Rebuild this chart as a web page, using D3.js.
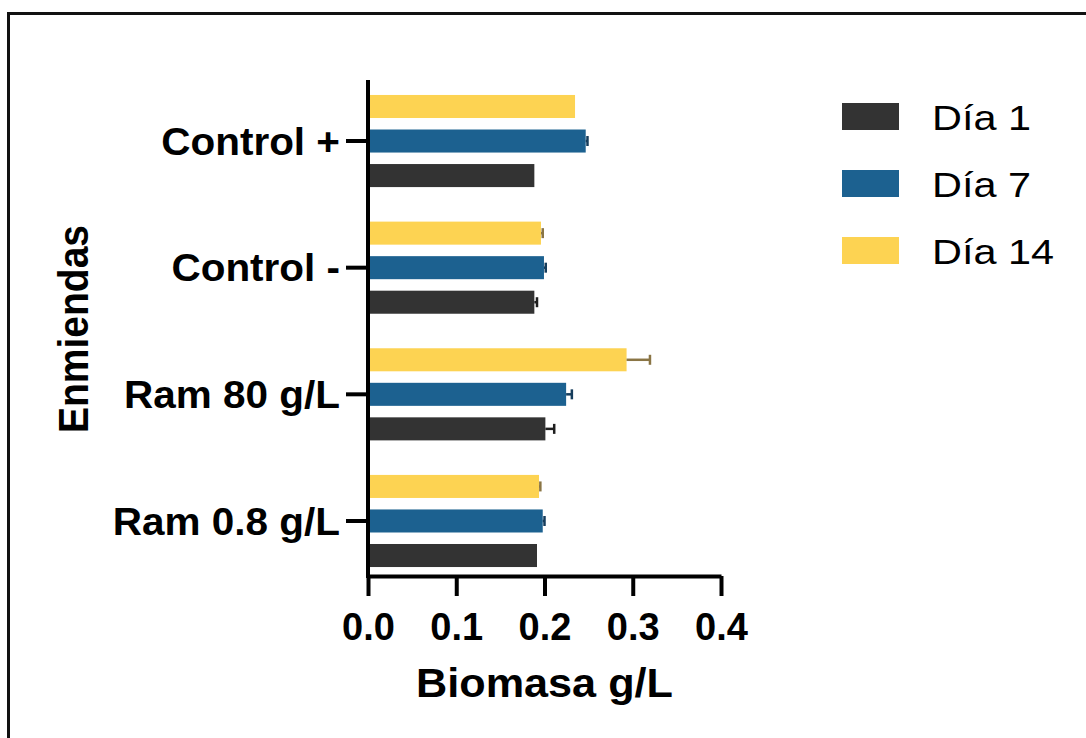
<!DOCTYPE html>
<meta charset="utf-8">
<head>
	<style>
body { margin: 0; background: white; }
svg { display: block; }
.axis path, .axis line { stroke: black; stroke-width: 4px; }
.axis text { font-family: "Liberation Sans", Arial, sans-serif; font-weight: bold; fill: black; }
	</style>
</head>
<body>
    <div id="chart"></div>

<script type="text/javascript" src="https://d3js.org/d3.v7.min.js"></script>
    <script>

// data
const categories = ["Control +", "Control -", "Ram 80 g/L", "Ram 0.8 g/L"];
const series = ["Día 14", "Día 7", "Día 1"];   // top to bottom inside a group
const legendOrder = ["Día 1", "Día 7", "Día 14"];
const dia1 = [0.1885, 0.1885, 0.201, 0.1915];
const dia1Err = [0, 0.003, 0.010, 0];
const dia7 = [0.2467, 0.1994, 0.2245, 0.198];
const dia7Err = [0.002, 0.002, 0.0065, 0.002];
const dia14 = [0.2346, 0.196, 0.293, 0.1938];
const dia14Err = [0, 0.002, 0.0265, 0.0015];
const xTicks = [0, 0.1, 0.2, 0.3, 0.4];

const colors = {"Día 1": "#333333", "Día 7": "#1c6190", "Día 14": "#fdd352"};
const errColors = {"Día 1": "#1e1e1e", "Día 7": "#163d5c", "Día 14": "#8a7545"};

const width = 1086;
const height = 738;

const values = {"Día 1": dia1, "Día 7": dia7, "Día 14": dia14};
const errs = {"Día 1": dia1Err, "Día 7": dia7Err, "Día 14": dia14Err};

const rows = [];
categories.forEach((c, i) => series.forEach(s => rows.push({cat: c, s: s, v: values[s][i], e: errs[s][i]})));

const svg = d3.select('#chart')
  .append('svg')
  .attr('width', width)
  .attr('height', height);

// frame around the figure (runs off the right and bottom edge)
svg.append('rect')
    .attr('x', 8.5).attr('y', 13.5)
    .attr('width', 1200).attr('height', 900)
    .attr('fill', 'none')
    .attr('stroke', '#111')
    .attr('stroke-width', 3);

const x = d3.scaleLinear().domain([0, 0.4]).range([368, 721]);
const axisY = 576;
const axisTop = 80;

const y = d3.scaleBand().domain(categories).range([77.7, 584.3]).paddingInner(0);
const yInner = d3.scaleBand().domain(series).range([0, y.bandwidth()])
    .paddingInner(0.333).paddingOuter(0.5);

// bars
svg.append('g').selectAll('rect')
    .data(rows)
    .enter()
    .append('rect')
    .attr('x', x(0))
    .attr('y', d => y(d.cat) + yInner(d.s))
    .attr('width', d => x(d.v) - x(0))
    .attr('height', yInner.bandwidth())
    .attr('fill', d => colors[d.s]);

// error bars, right side only
const eb = svg.append('g').selectAll('g')
    .data(rows.filter(d => d.e > 0))
    .enter()
    .append('g')
    .attr('stroke', d => errColors[d.s])
    .attr('stroke-width', 2.5);
eb.append('line')
    .attr('x1', d => x(d.v)).attr('x2', d => x(d.v + d.e))
    .attr('y1', d => y(d.cat) + yInner(d.s) + yInner.bandwidth() / 2)
    .attr('y2', d => y(d.cat) + yInner(d.s) + yInner.bandwidth() / 2);
eb.append('line')
    .attr('x1', d => x(d.v + d.e)).attr('x2', d => x(d.v + d.e))
    .attr('y1', d => y(d.cat) + yInner(d.s) + yInner.bandwidth() / 2 - 5)
    .attr('y2', d => y(d.cat) + yInner(d.s) + yInner.bandwidth() / 2 + 5);

// x axis
const gx = svg.append('g')
    .attr('class', 'axis')
    .attr('transform', `translate(0,${axisY})`)
    .call(d3.axisBottom(x).tickValues(xTicks).tickFormat(d3.format('.1f'))
        .tickSize(20).tickSizeOuter(0).tickPadding(17));
gx.selectAll('text').style('font-size', '38px');

// y axis
const labelStretch = 1.065;
const gy = svg.append('g')
    .attr('class', 'axis')
    .attr('transform', `translate(${x(0)},0)`)
    .call(d3.axisLeft(y).tickSize(22).tickPadding(6));
gy.select('.domain').remove();
gy.append('line')
    .attr('x1', 0).attr('x2', 0)
    .attr('y1', axisTop).attr('y2', axisY + 2)
    .attr('stroke', 'black').attr('stroke-width', 4);
gy.selectAll('text')
    .style('font-size', '38px')
    .attr('dy', '0.36em')
    .attr('x', -28 / labelStretch)
    .attr('transform', `scale(${labelStretch},1)`);

// axis titles
svg.append('text')
    .attr('transform', `translate(${(x(0) + x(0.4)) / 2},697) scale(1.08,1)`)
    .attr('text-anchor', 'middle')
    .style('font', 'bold 40px "Liberation Sans", Arial, sans-serif')
    .text('Biomasa g/L');

svg.append('text')
    .attr('transform', 'translate(88,329) rotate(-90) scale(1,1.08)')
    .attr('text-anchor', 'middle')
    .style('font', 'bold 39px "Liberation Sans", Arial, sans-serif')
    .text('Enmiendas');

// legend
const legend = svg.append('g').selectAll('g')
    .data(legendOrder)
    .enter()
    .append('g')
    .attr('transform', (d, i) => `translate(842,${103 + i * 67})`);
legend.append('rect')
    .attr('width', 57).attr('height', 27)
    .attr('fill', d => colors[d]);
legend.append('text')
    .attr('transform', 'translate(90,27) scale(1.15,1)')
    .style('font', '36px "Liberation Sans", Arial, sans-serif')
    .text(d => d);

    </script>

</body>

</html>
